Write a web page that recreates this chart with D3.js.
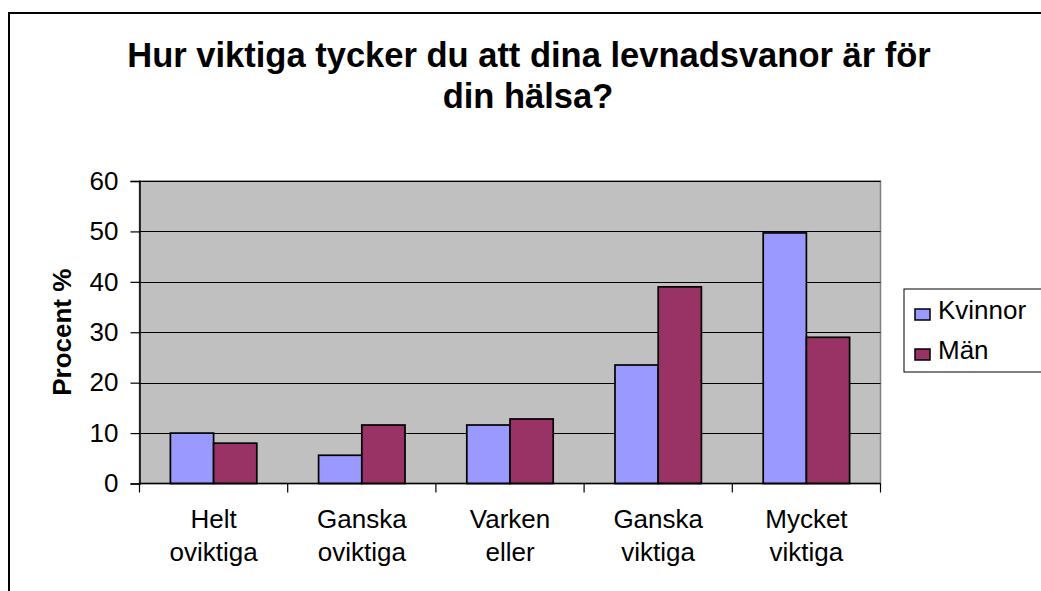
<!DOCTYPE html>
<html>
<head>
<meta charset="utf-8">
<script src="https://cdn.jsdelivr.net/npm/d3@7"></script>
<style>
  body { margin: 0; background: #fff; }
  svg { display: block; font-family: "Liberation Sans", Arial, sans-serif; }
</style>
</head>
<body>
<div id="wrapper"></div>
<script>
// data
const categories = [["Helt", "oviktiga"], ["Ganska", "oviktiga"], ["Varken", "eller"], ["Ganska", "viktiga"], ["Mycket", "viktiga"]];
const seriesNames = ["Kvinnor", "Män"];
const kvinnor = [10, 5.6, 11.6, 23.5, 49.7];
const man = [8, 11.6, 12.8, 39, 29];
const yTicks = [0, 10, 20, 30, 40, 50, 60];
const colors = ["#9999FF", "#993366"];

const width = 1041, height = 591;
const plot = {left: 139.5, right: 880.5, top: 181, bottom: 483.5};

let svg = d3.select('#wrapper').append('svg')
    .attr('width', width)
    .attr('height', height);

// outer chart frame (runs off right and bottom)
svg.append('rect')
    .attr('x', 9).attr('y', 13)
    .attr('width', width + 20).attr('height', height + 20)
    .attr('fill', '#fff')
    .attr('stroke', '#000')
    .attr('stroke-width', 2);

// title
let title = svg.append('text')
    .attr('text-anchor', 'middle')
    .style('font-weight', 'bold')
    .style('font-size', '34.5px');
title.append('tspan').attr('x', 529).attr('y', 67).text('Hur viktiga tycker du att dina levnadsvanor är för');
title.append('tspan').attr('x', 528).attr('y', 108).text('din hälsa?');

//SCALES
let x = d3.scaleBand().domain(d3.range(categories.length))
    .range([plot.left, plot.right]).paddingInner(0).paddingOuter(0);
let xInner = d3.scaleBand().domain(seriesNames)
    .range([0, x.bandwidth()]).paddingInner(0).paddingOuter(0.715);
let y = d3.scaleLinear().domain([0, 60]).range([plot.bottom, plot.top]);

// plot area
svg.append('rect')
    .attr('x', plot.left).attr('y', plot.top)
    .attr('width', plot.right - plot.left).attr('height', plot.bottom - plot.top)
    .attr('fill', '#C0C0C0')
    .attr('stroke', '#808080')
    .attr('stroke-width', 1.5);

// gridlines
svg.append('g').selectAll('line').data(yTicks.filter(t => t > 0)).enter().append('line')
    .attr('x1', plot.left).attr('x2', plot.right)
    .attr('y1', d => Math.round(y(d)) + 0.5).attr('y2', d => Math.round(y(d)) + 0.5)
    .attr('stroke', '#000')
    .attr('stroke-width', 1.2);

// bars
let rows = categories.map((c, i) => [
    {cat: i, name: seriesNames[0], value: kvinnor[i]},
    {cat: i, name: seriesNames[1], value: man[i]}
]);
let groups = svg.append('g').selectAll('g').data(rows).enter().append('g')
    .attr('transform', (d, i) => 'translate(' + x(i) + ',0)');
groups.selectAll('rect').data(d => d).enter().append('rect')
    .attr('x', d => xInner(d.name))
    .attr('y', d => y(d.value))
    .attr('width', xInner.bandwidth())
    .attr('height', d => y(0) - y(d.value))
    .attr('fill', (d, i) => colors[i])
    .attr('stroke', '#000')
    .attr('stroke-width', 1.7);

// y axis
let yAxis = svg.append('g')
    .attr('transform', 'translate(' + plot.left + ',0)')
    .call(d3.axisLeft(y).tickValues(yTicks).tickSize(9).tickPadding(12));
yAxis.select('.domain').attr('stroke', '#000').attr('stroke-width', 1.5);
yAxis.selectAll('.tick line').attr('stroke', '#000').attr('stroke-width', 1.2);
yAxis.selectAll('.tick text')
    .style('font-size', '26px')
    .style('font-family', '"Liberation Sans", Arial, sans-serif')
    .attr('fill', '#000');

// x axis: ticks sit on the category boundaries
let xAxisG = svg.append('g');
xAxisG.append('line')
    .attr('x1', plot.left).attr('x2', plot.right)
    .attr('y1', plot.bottom).attr('y2', plot.bottom)
    .attr('stroke', '#000').attr('stroke-width', 1.5);
let boundaries = d3.range(categories.length + 1).map(i => plot.left + i * x.step());
xAxisG.selectAll('.xtick').data(boundaries).enter().append('line')
    .attr('x1', d => d).attr('x2', d => d)
    .attr('y1', plot.bottom).attr('y2', plot.bottom + 9)
    .attr('stroke', '#000').attr('stroke-width', 1.2);

let xLabels = xAxisG.selectAll('.xlabel').data(categories).enter().append('text')
    .attr('text-anchor', 'middle')
    .style('font-size', '26px');
xLabels.each(function(d, i) {
    let t = d3.select(this);
    d.forEach((line, j) => {
        t.append('tspan')
            .attr('x', x(i) + x.bandwidth() / 2)
            .attr('y', 528 + j * 33)
            .text(line);
    });
});

// y axis title
svg.append('text')
    .attr('transform', 'translate(71,' + ((plot.top + plot.bottom) / 2) + ') rotate(-90)')
    .attr('text-anchor', 'middle')
    .style('font-weight', 'bold')
    .style('font-size', '26px')
    .text('Procent %');

// legend
let legend = svg.append('g').attr('transform', 'translate(904,289)');
legend.append('rect')
    .attr('x', 0).attr('y', 0)
    .attr('width', 160).attr('height', 83)
    .attr('fill', '#fff')
    .attr('stroke', '#000')
    .attr('stroke-width', 1);
let items = legend.selectAll('.item').data(seriesNames).enter().append('g')
    .attr('transform', (d, i) => 'translate(0,' + (i * 40) + ')');
items.append('rect')
    .attr('x', 11).attr('y', 20)
    .attr('width', 15).attr('height', 11)
    .attr('fill', (d, i) => colors[i])
    .attr('stroke', '#000')
    .attr('stroke-width', 1.5);
items.append('text')
    .attr('x', 34).attr('y', 30)
    .style('font-size', '26px')
    .text(d => d);
</script>
</body>
</html>
